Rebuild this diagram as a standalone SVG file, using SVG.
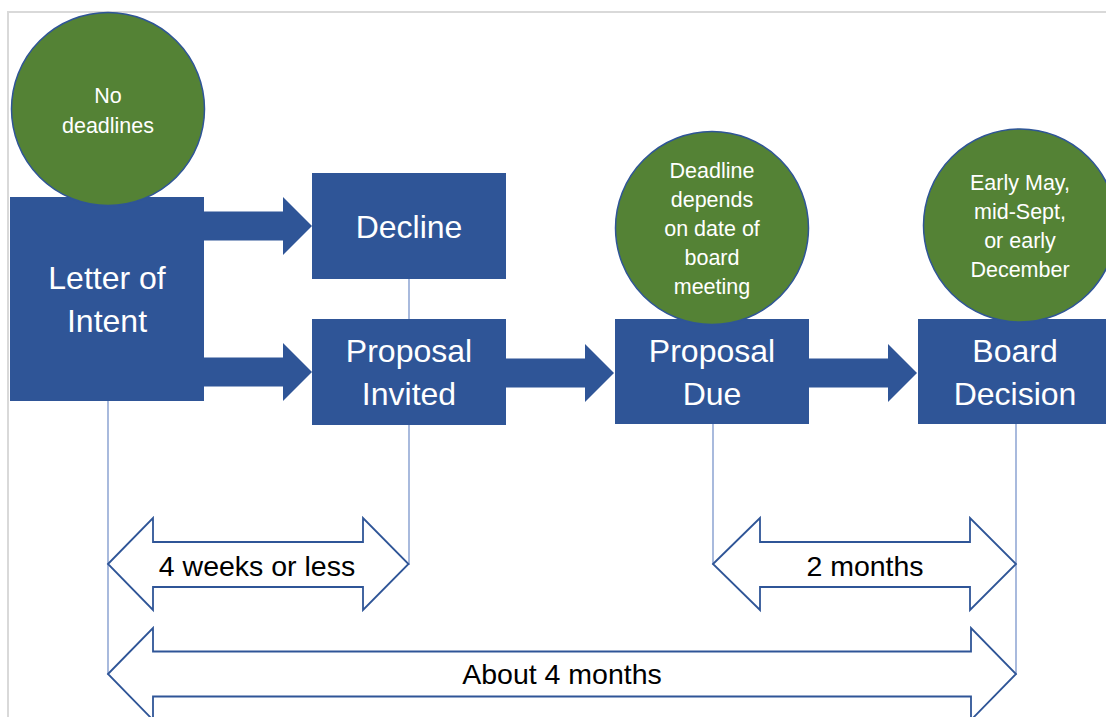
<svg xmlns="http://www.w3.org/2000/svg" width="1106" height="717" viewBox="0 0 1106 717">
<style>
.box{fill:#2f5597;}
.circ{fill:#548235;stroke:#2f5597;stroke-width:1.5;}
.bt{font-family:"Liberation Sans",Arial,sans-serif;font-size:32px;fill:#ffffff;text-anchor:middle;}
.ct{font-family:"Liberation Sans",Arial,sans-serif;font-size:21.5px;fill:#ffffff;text-anchor:middle;}
.dt{font-family:"Liberation Sans",Arial,sans-serif;font-size:28.5px;fill:#000000;text-anchor:middle;}
.blk{fill:#2f5597;}
.vl{stroke:#6f8cc7;stroke-width:1.2;fill:none;}
.da{fill:#ffffff;stroke:#2f5597;stroke-width:1.8;stroke-linejoin:miter;}
.frame{stroke:#d9d9d9;stroke-width:2;fill:none;}
</style>
<rect x="0" y="0" width="1106" height="717" fill="#ffffff"/>
<path class="frame" d="M8,717 V12 H1106"/>

<g id="connectors">
  <line class="vl" x1="108" y1="401" x2="108" y2="675"/>
  <line class="vl" x1="409" y1="279" x2="409" y2="565"/>
  <line class="vl" x1="713" y1="424" x2="713" y2="565"/>
  <line class="vl" x1="1016" y1="424" x2="1016" y2="675"/>
  <polygon class="blk" points="204,211.5 283,211.5 283,197 312,226 283,255 283,240.5 204,240.5"/>
  <polygon class="blk" points="204,357.5 283,357.5 283,343 312,372 283,401 283,386.5 204,386.5"/>
  <polygon class="blk" points="505,358.5 585,358.5 585,344 614,373 585,402 585,387.5 505,387.5"/>
  <polygon class="blk" points="809,358.5 888,358.5 888,344 917,373 888,402 888,387.5 809,387.5"/>
</g>

<g id="letter-of-intent">
  <rect class="box" x="10" y="197" width="194" height="204"/>
  <text class="bt" x="107" y="289">Letter of</text>
  <text class="bt" x="107" y="332">Intent</text>
</g>
<g id="decline">
  <rect class="box" x="312" y="173" width="194" height="106"/>
  <text class="bt" x="409" y="238">Decline</text>
</g>
<g id="proposal-invited">
  <rect class="box" x="312" y="319" width="194" height="106"/>
  <text class="bt" x="409" y="362">Proposal</text>
  <text class="bt" x="409" y="405">Invited</text>
</g>
<g id="proposal-due">
  <rect class="box" x="615" y="319" width="194" height="105"/>
  <text class="bt" x="712" y="362">Proposal</text>
  <text class="bt" x="712" y="405">Due</text>
</g>
<g id="board-decision">
  <rect class="box" x="918" y="319" width="194" height="105"/>
  <text class="bt" x="1015" y="362">Board</text>
  <text class="bt" x="1015" y="405">Decision</text>
</g>

<g id="note-no-deadlines">
  <circle class="circ" cx="108" cy="109" r="96.5"/>
  <text class="ct" x="108" y="103">No</text>
  <text class="ct" x="108" y="133">deadlines</text>
</g>
<g id="note-deadline-depends">
  <circle class="circ" cx="712" cy="228" r="96.5"/>
  <text class="ct" x="712" y="178">Deadline</text>
  <text class="ct" x="712" y="207">depends</text>
  <text class="ct" x="712" y="236">on date of</text>
  <text class="ct" x="712" y="265">board</text>
  <text class="ct" x="712" y="294">meeting</text>
</g>
<g id="note-board-dates">
  <circle class="circ" cx="1020" cy="225.5" r="96.5"/>
  <text class="ct" x="1020" y="190">Early May,</text>
  <text class="ct" x="1020" y="219">mid-Sept,</text>
  <text class="ct" x="1020" y="248">or early</text>
  <text class="ct" x="1020" y="277">December</text>
</g>

<g id="span-4-weeks">
  <polygon class="da" points="108,564 153,518 153,542 363,542 363,518 408.5,564 363,610 363,587 153,587 153,610"/>
  <text class="dt" x="257" y="576">4 weeks or less</text>
</g>
<g id="span-2-months">
  <polygon class="da" points="713,564 760,518 760,542 970,542 970,518 1016,564 970,610 970,587 760,587 760,610"/>
  <text class="dt" x="865" y="576">2 months</text>
</g>
<g id="span-4-months">
  <polygon class="da" points="108,674 153,628 153,651.5 971,651.5 971,628 1016,674 971,720 971,696.5 153,696.5 153,720"/>
  <text class="dt" x="562" y="684">About 4 months</text>
</g>
</svg>
